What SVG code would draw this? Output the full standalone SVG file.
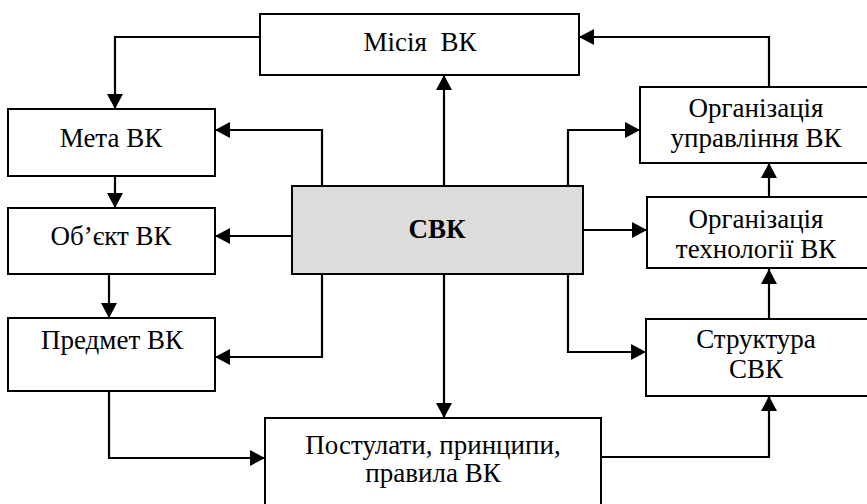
<svg xmlns="http://www.w3.org/2000/svg" width="867" height="504" viewBox="0 0 867 504">
<style>
.box{fill:#ffffff;stroke:#000;stroke-width:2}
.main{fill:#dcdcdc;stroke:#000;stroke-width:2}
.t{font-family:"Liberation Serif","DejaVu Serif",serif;font-size:27px;fill:#000;text-anchor:middle}
.b{font-weight:bold}
.c{fill:none;stroke:#000;stroke-width:2.2;marker-end:url(#ah)}
</style>
<defs>
<marker id="ah" markerUnits="userSpaceOnUse" markerWidth="15" markerHeight="16" refX="15" refY="8" orient="auto">
<path d="M0,0 L15,8 L0,16 Z" fill="#000"/>
</marker>
</defs>
<rect width="867" height="504" fill="#fff"/>
<g id="connectors">
<path class="c" d="M260,37 H115 V109"/>
<path class="c" d="M322,186 V130 H215"/>
<path class="c" d="M115,176 V208"/>
<path class="c" d="M292,236 H215"/>
<path class="c" d="M109,274 V318"/>
<path class="c" d="M322,274 V357 H215"/>
<path class="c" d="M109,391 V458 H265"/>
<path class="c" d="M444,186 V75"/>
<path class="c" d="M444,274 V418"/>
<path class="c" d="M568,186 V130 H640"/>
<path class="c" d="M583,230 H647"/>
<path class="c" d="M769,197 V163"/>
<path class="c" d="M769,87 V37 H579"/>
<path class="c" d="M568,274 V352 H646"/>
<path class="c" d="M769,319 V269"/>
<path class="c" d="M601,457 H769 V396"/>
</g>
<g id="mission">
<rect class="box" x="260" y="14" width="319" height="61"/>
<text class="t" x="420" y="51" xml:space="preserve">Місія  ВК</text>
</g>
<g id="meta">
<rect class="box" x="8" y="109" width="207" height="67"/>
<text class="t" x="111" y="147">Мета ВК</text>
</g>
<g id="object">
<rect class="box" x="8" y="208" width="207" height="66"/>
<text class="t" x="111" y="245">Об’єкт ВК</text>
</g>
<g id="predmet">
<rect class="box" x="8" y="318" width="207" height="73"/>
<text class="t" x="112" y="349">Предмет ВК</text>
</g>
<g id="svk">
<rect class="main" x="292" y="186" width="291" height="88"/>
<text class="t b" x="437" y="238">СВК</text>
</g>
<g id="postulaty">
<rect class="box" x="265" y="418" width="336" height="100"/>
<text class="t" x="433" y="454">Постулати, принципи,</text>
<text class="t" x="433" y="482">правила ВК</text>
</g>
<g id="org-upr">
<rect class="box" x="640" y="87" width="230" height="76"/>
<text class="t" x="756" y="117">Організація</text>
<text class="t" x="756" y="147">управління ВК</text>
</g>
<g id="org-tech">
<rect class="box" x="647" y="197" width="223" height="71"/>
<text class="t" x="756" y="228">Організація</text>
<text class="t" x="756" y="258">технології ВК</text>
</g>
<g id="struktura">
<rect class="box" x="646" y="319" width="224" height="77"/>
<text class="t" x="756" y="348">Структура</text>
<text class="t" x="756" y="378">СВК</text>
</g>
</svg>
